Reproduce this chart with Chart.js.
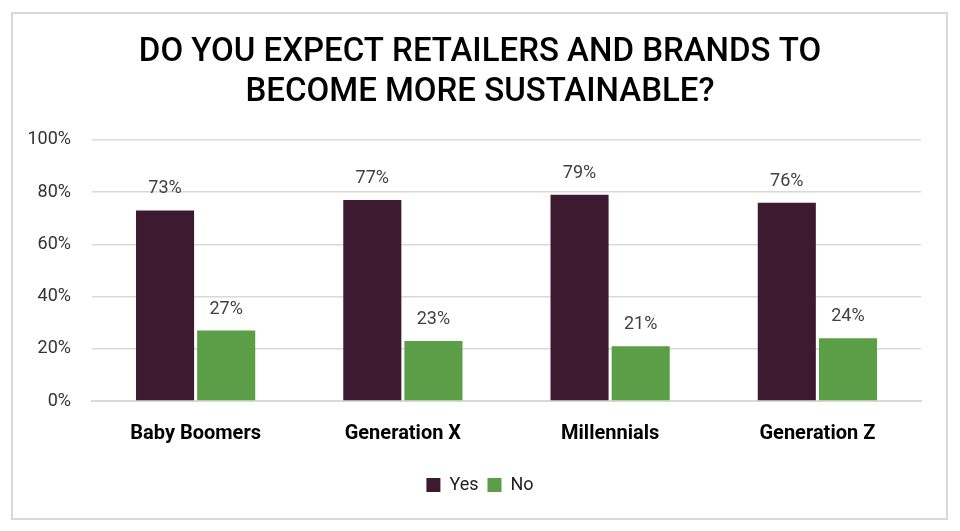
<!DOCTYPE html>
<html>
<head>
<meta charset="utf-8">
<script src="https://cdn.jsdelivr.net/npm/chart.js@4"></script>
<style>
	html, body { margin: 0; padding: 0; background: #fff; }
	#wrap { position: relative; width: 960px; height: 531px; }
	#frame {
		position: absolute; left: 11px; top: 12px; width: 933px; height: 504px;
		border: 2px solid #d9d9d9; pointer-events: none;
	}
	canvas { position: absolute; left: 0; top: 0; }
</style>
</head>
<body>
<div id="wrap">
	<canvas id="chart" width="960" height="531"></canvas>
	<div id="frame"></div>
</div>
<script>
// chart data
const titleLines = [ 'DO YOU EXPECT RETAILERS AND BRANDS TO', 'BECOME MORE SUSTAINABLE?' ];
const generations = [ 'Baby Boomers', 'Generation X', 'Millennials', 'Generation Z' ];
const yesValues = [ 73, 77, 79, 76 ];
const noValues = [ 27, 23, 21, 24 ];
const seriesNames = [ 'Yes', 'No' ];

const YES_COLOR = '#3e1a31';
const NO_COLOR = '#5c9e47';
const GRID_COLOR = '#d9d9d9';

// value labels above each bar
let barValueLabels = {
	id: 'barValueLabels',
	afterDatasetsDraw (chart) {
		let { ctx } = chart;
		ctx.save();
		ctx.font = '400 18px Roboto, sans-serif';
		ctx.fillStyle = '#404040';
		ctx.textAlign = 'center';
		ctx.textBaseline = 'alphabetic';
		chart.data.datasets.forEach((ds, i) => {
			chart.getDatasetMeta(i).data.forEach((bar, j) => {
				ctx.fillText(ds.data[j] + '%', bar.x, bar.y - 17);
			});
		});
		ctx.restore();
	},
};

new Chart(document.getElementById('chart'), {
	type: 'bar',
	data: {
		labels: generations,
		datasets: [
			{ label: seriesNames[0], data: yesValues, backgroundColor: YES_COLOR },
			{ label: seriesNames[1], data: noValues, backgroundColor: NO_COLOR },
		],
	},
	options: {
		responsive: false,
		animation: false,
		devicePixelRatio: 1,
		layout: { padding: { left: 0, right: 0, top: 0, bottom: 27 } },
		categoryPercentage: 0.59,
		barPercentage: 0.95,
		plugins: {
			title: {
				display: true,
				text: titleLines,
				color: '#000',
				font: { family: 'Roboto, sans-serif', size: 33, weight: 500, lineHeight: 1.212 },
				padding: { top: 33, bottom: 27 },
			},
			legend: {
				position: 'bottom',
				labels: {
					boxWidth: 14,
					boxHeight: 14,
					padding: 9,
					color: '#222',
					font: { family: 'Roboto, sans-serif', size: 18 },
				},
			},
			tooltip: { enabled: false },
		},
		scales: {
			x: {
				grid: { display: false, drawTicks: false },
				border: { display: true, color: GRID_COLOR, width: 2 },
				ticks: {
					padding: 21,
					color: '#000',
					font: { family: 'Roboto, sans-serif', size: 20, weight: 700 },
				},
			},
			y: {
				min: 0,
				max: 100,
				afterFit (scale) { scale.width = 92; },
				grid: { color: GRID_COLOR, lineWidth: 1.5, drawTicks: false },
				border: { display: false },
				ticks: {
					stepSize: 20,
					padding: 21,
					color: '#333',
					font: { family: 'Roboto, sans-serif', size: 18 },
					callback: (v) => v + '%',
				},
			},
			// empty right-hand spacer so the plot ends where the reference does
			spacer: {
				type: 'linear',
				position: 'right',
				display: true,
				grid: { display: false, drawTicks: false },
				border: { display: false },
				ticks: { display: false },
				afterFit (scale) { scale.width = 39; },
			},
		},
	},
	plugins: [ barValueLabels ],
});
</script>
</body>
</html>
